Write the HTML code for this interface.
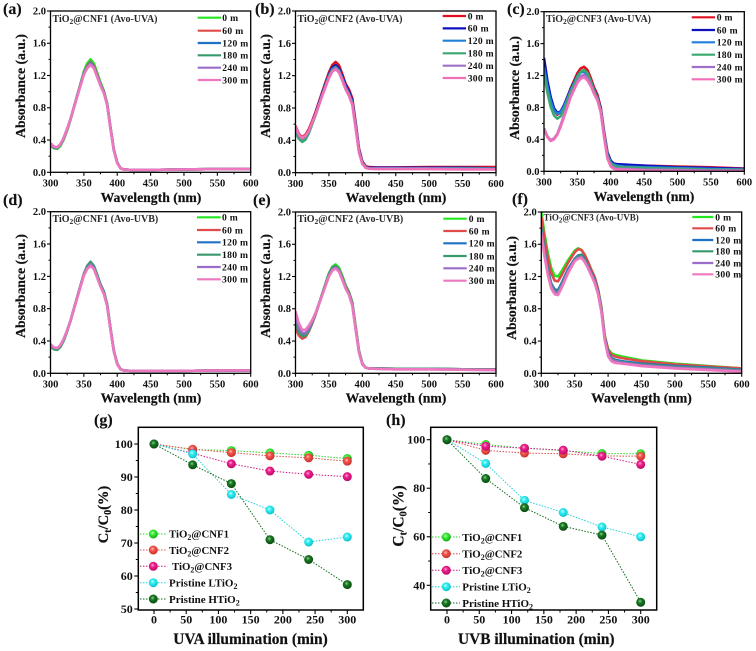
<!DOCTYPE html>
<html lang="en">
<head>
<meta charset="utf-8">
<title>TiO2@CNF absorbance and degradation charts</title>
<style>
html,body{margin:0;padding:0;background:#fff;}
svg{display:block;filter:blur(0.3px);}
text{font-family:"Liberation Serif",serif;font-weight:bold;fill:#111;}
.pl{font-size:16px;stroke:#111;stroke-width:.15px;}
.ti{font-size:10px;fill:#2a2a2a;}
.ax{font-size:13.7px;stroke:#111;stroke-width:.2px;}
.lg{font-size:9.6px;letter-spacing:.3px;}
.ll{stroke-width:2.2;}
.big{font-size:15.4px;stroke:#111;stroke-width:.2px;}
.yb{font-size:14.5px;stroke:#111;stroke-width:.2px;}
.gl{font-size:10.8px;}
.dl{stroke-width:1;stroke-dasharray:1.5 1.5;}
</style>
</head>
<body>
<svg id="fig" xmlns="http://www.w3.org/2000/svg" width="756" height="651" viewBox="0 0 756 651">
<defs>
<radialGradient id="s-green" cx="42%" cy="38%" r="62%"><stop offset="0" stop-color="#b8ffb0"/><stop offset=".35" stop-color="#3cf03c"/><stop offset="1" stop-color="#12a812"/></radialGradient>
<radialGradient id="s-red" cx="42%" cy="38%" r="62%"><stop offset="0" stop-color="#ffc4b8"/><stop offset=".35" stop-color="#f2574c"/><stop offset="1" stop-color="#c8302c"/></radialGradient>
<radialGradient id="s-mag" cx="42%" cy="38%" r="62%"><stop offset="0" stop-color="#ffb0d8"/><stop offset=".35" stop-color="#f0208e"/><stop offset="1" stop-color="#b80c68"/></radialGradient>
<radialGradient id="s-cyan" cx="42%" cy="38%" r="62%"><stop offset="0" stop-color="#d0ffff"/><stop offset=".35" stop-color="#30eef2"/><stop offset="1" stop-color="#12c0cc"/></radialGradient>
<radialGradient id="s-dark" cx="42%" cy="38%" r="62%"><stop offset="0" stop-color="#90d090"/><stop offset=".35" stop-color="#1a7a24"/><stop offset="1" stop-color="#084a10"/></radialGradient>
</defs>

<g id="marks"></g>

<g>
<text class="pl" x="3" y="14">(a)</text>
<text class="ti" x="52.5" y="22">TiO<tspan font-size="7.5" dy="2">2</tspan><tspan dy="-2">@CNF1 (Avo-UVA)</tspan></text>
<text class="ax" x="151" y="202" text-anchor="middle">Wavelength (nm)</text>
<text class="ax" transform="translate(25,86) rotate(-90)" text-anchor="middle">Absorbance (a.u.)</text>
<g>
<line class="ll" x1="197.7" x2="221" y1="17.7" y2="17.7" stroke="#22e822"/><text class="lg" x="222.3" y="21">0 m</text>
<line class="ll" x1="197.7" x2="221" y1="30.7" y2="30.7" stroke="#e04a48"/><text class="lg" x="222.3" y="34">60 m</text>
<line class="ll" x1="197.7" x2="221" y1="43" y2="43" stroke="#2070c4"/><text class="lg" x="222.3" y="46.3">120 m</text>
<line class="ll" x1="197.7" x2="221" y1="55.3" y2="55.3" stroke="#38996c"/><text class="lg" x="222.3" y="58.6">180 m</text>
<line class="ll" x1="197.7" x2="221" y1="67.7" y2="67.7" stroke="#9a6ccc"/><text class="lg" x="222.3" y="71">240 m</text>
<line class="ll" x1="197.7" x2="221" y1="80" y2="80" stroke="#ee78c0"/><text class="lg" x="222.3" y="83.3">300 m</text>
</g>
</g>

<g>
<text class="pl" x="255" y="14">(b)</text>
<text class="ti" x="297.5" y="22">TiO<tspan font-size="7.5" dy="2">2</tspan><tspan dy="-2">@CNF2 (Avo-UVA)</tspan></text>
<text class="ax" x="396" y="202" text-anchor="middle">Wavelength (nm)</text>
<text class="ax" transform="translate(270,86) rotate(-90)" text-anchor="middle">Absorbance (a.u.)</text>
<g>
<line class="ll" x1="442.7" x2="466" y1="16" y2="16" stroke="#e01020"/><text class="lg" x="467.7" y="19.3">0 m</text>
<line class="ll" x1="442.7" x2="466" y1="28.4" y2="28.4" stroke="#1010c0"/><text class="lg" x="467.7" y="31.7">60 m</text>
<line class="ll" x1="442.7" x2="466" y1="40.7" y2="40.7" stroke="#2080d8"/><text class="lg" x="467.7" y="44">120 m</text>
<line class="ll" x1="442.7" x2="466" y1="53.3" y2="53.3" stroke="#3aa870"/><text class="lg" x="467.7" y="56.6">180 m</text>
<line class="ll" x1="442.7" x2="466" y1="65.7" y2="65.7" stroke="#a070c8"/><text class="lg" x="467.7" y="69">240 m</text>
<line class="ll" x1="442.7" x2="466" y1="78" y2="78" stroke="#f070b8"/><text class="lg" x="467.7" y="81.3">300 m</text>
</g>
</g>

<g>
<text class="pl" x="507" y="14">(c)</text>
<text class="ti" x="546" y="22">TiO<tspan font-size="7.5" dy="2">2</tspan><tspan dy="-2">@CNF3 (Avo-UVA)</tspan></text>
<text class="ax" x="644" y="201" text-anchor="middle">Wavelength (nm)</text>
<text class="ax" transform="translate(519,88) rotate(-90)" text-anchor="middle">Absorbance (a.u.)</text>
<g>
<line class="ll" x1="691.7" x2="715" y1="17.3" y2="17.3" stroke="#e01020"/><text class="lg" x="716.7" y="20.6">0 m</text>
<line class="ll" x1="691.7" x2="715" y1="30" y2="30" stroke="#1010c0"/><text class="lg" x="716.7" y="33.3">60 m</text>
<line class="ll" x1="691.7" x2="715" y1="42.3" y2="42.3" stroke="#2080d8"/><text class="lg" x="716.7" y="45.6">120 m</text>
<line class="ll" x1="691.7" x2="715" y1="54.7" y2="54.7" stroke="#3aa870"/><text class="lg" x="716.7" y="58">180 m</text>
<line class="ll" x1="691.7" x2="715" y1="67" y2="67" stroke="#a070c8"/><text class="lg" x="716.7" y="70.3">240 m</text>
<line class="ll" x1="691.7" x2="715" y1="79.3" y2="79.3" stroke="#f070b8"/><text class="lg" x="716.7" y="82.6">300 m</text>
</g>
</g>

<g>
<text class="pl" x="3" y="205">(d)</text>
<text class="ti" x="52.5" y="222">TiO<tspan font-size="7.5" dy="2">2</tspan><tspan dy="-2">@CNF1 (Avo-UVB)</tspan></text>
<text class="ax" x="151" y="402.5" text-anchor="middle">Wavelength (nm)</text>
<text class="ax" transform="translate(25,286) rotate(-90)" text-anchor="middle">Absorbance (a.u.)</text>
<g>
<line class="ll" x1="197" x2="220.7" y1="217.3" y2="217.3" stroke="#22e822"/><text class="lg" x="222" y="220.6">0 m</text>
<line class="ll" x1="197" x2="220.7" y1="230" y2="230" stroke="#e04a48"/><text class="lg" x="222" y="233.3">60 m</text>
<line class="ll" x1="197" x2="220.7" y1="242.3" y2="242.3" stroke="#2070c4"/><text class="lg" x="222" y="245.6">120 m</text>
<line class="ll" x1="197" x2="220.7" y1="254.7" y2="254.7" stroke="#38996c"/><text class="lg" x="222" y="258">180 m</text>
<line class="ll" x1="197" x2="220.7" y1="267" y2="267" stroke="#9a6ccc"/><text class="lg" x="222" y="270.3">240 m</text>
<line class="ll" x1="197" x2="220.7" y1="279.3" y2="279.3" stroke="#ee78c0"/><text class="lg" x="222" y="282.6">300 m</text>
</g>
</g>

<g>
<text class="pl" x="253" y="205">(e)</text>
<text class="ti" x="297.5" y="222">TiO<tspan font-size="7.5" dy="2">2</tspan><tspan dy="-2">@CNF2 (Avo-UVB)</tspan></text>
<text class="ax" x="396" y="402.5" text-anchor="middle">Wavelength (nm)</text>
<text class="ax" transform="translate(270,286) rotate(-90)" text-anchor="middle">Absorbance (a.u.)</text>
<g>
<line class="ll" x1="443.3" x2="466.7" y1="218.7" y2="218.7" stroke="#22e822"/><text class="lg" x="468.7" y="222">0 m</text>
<line class="ll" x1="443.3" x2="466.7" y1="231" y2="231" stroke="#e04a48"/><text class="lg" x="468.7" y="234.3">60 m</text>
<line class="ll" x1="443.3" x2="466.7" y1="243.3" y2="243.3" stroke="#2070c4"/><text class="lg" x="468.7" y="246.6">120 m</text>
<line class="ll" x1="443.3" x2="466.7" y1="256" y2="256" stroke="#38996c"/><text class="lg" x="468.7" y="259.3">180 m</text>
<line class="ll" x1="443.3" x2="466.7" y1="268.3" y2="268.3" stroke="#9a6ccc"/><text class="lg" x="468.7" y="271.6">240 m</text>
<line class="ll" x1="443.3" x2="466.7" y1="280.7" y2="280.7" stroke="#ee78c0"/><text class="lg" x="468.7" y="284">300 m</text>
</g>
</g>

<g>
<text class="pl" x="512" y="204">(f)</text>
<text class="ti" x="543.5" y="220.5" style="font-size:9px">TiO<tspan font-size="7" dy="2">2</tspan><tspan dy="-2">@CNF3 (Avo-UVB)</tspan></text>
<text class="ax" x="641.5" y="402.5" text-anchor="middle">Wavelength (nm)</text>
<text class="ax" transform="translate(516,288) rotate(-90)" text-anchor="middle">Absorbance (a.u.)</text>
<g>
<line class="ll" x1="692.3" x2="713.3" y1="217" y2="217" stroke="#22e822"/><text class="lg" x="715.3" y="220.3">0 m</text>
<line class="ll" x1="692.3" x2="713.3" y1="228.3" y2="228.3" stroke="#e04a48"/><text class="lg" x="715.3" y="231.6">60 m</text>
<line class="ll" x1="692.3" x2="713.3" y1="240" y2="240" stroke="#2070c4"/><text class="lg" x="715.3" y="243.3">120 m</text>
<line class="ll" x1="692.3" x2="713.3" y1="251.3" y2="251.3" stroke="#38996c"/><text class="lg" x="715.3" y="254.6">180 m</text>
<line class="ll" x1="692.3" x2="713.3" y1="263" y2="263" stroke="#9a6ccc"/><text class="lg" x="715.3" y="266.3">240 m</text>
<line class="ll" x1="692.3" x2="713.3" y1="274.3" y2="274.3" stroke="#ee78c0"/><text class="lg" x="715.3" y="277.6">300 m</text>
</g>
</g>

<g>
<text class="pl" x="94" y="425">(g)</text>
<text class="big" x="250.5" y="644" text-anchor="middle">UVA illumination (min)</text>
<text class="yb" transform="translate(108,514.5) rotate(-90)" text-anchor="middle">C<tspan font-size="10" dy="3">t</tspan><tspan dy="-3">/C</tspan><tspan font-size="10" dy="3">0</tspan><tspan dy="-3">(%)</tspan></text>
<g>
<line class="dl" x1="140" x2="167" y1="534" y2="534" stroke="#22dd22"/><circle cx="153.3" cy="534" r="4.5" fill="url(#s-green)"/><text class="gl" x="169" y="537.5">TiO<tspan font-size="8" dy="2.5">2</tspan><tspan dy="-2.5">@CNF1</tspan></text>
<line class="dl" x1="140" x2="167" y1="550" y2="550" stroke="#e04a48"/><circle cx="153.3" cy="550" r="4.5" fill="url(#s-red)"/><text class="gl" x="169" y="553.8">TiO<tspan font-size="8" dy="2.5">2</tspan><tspan dy="-2.5">@CNF2</tspan></text>
<line class="dl" x1="140" x2="167" y1="566.3" y2="566.3" stroke="#d01a88"/><circle cx="153.3" cy="566.3" r="4.5" fill="url(#s-mag)"/><text class="gl" x="172" y="570.1">TiO<tspan font-size="8" dy="2.5">2</tspan><tspan dy="-2.5">@CNF3</tspan></text>
<line class="dl" x1="140" x2="167" y1="582.7" y2="582.7" stroke="#22d0d8"/><circle cx="153.3" cy="582.7" r="4.5" fill="url(#s-cyan)"/><text class="gl" x="169" y="586.5" style="font-size:11px">Pristine LTiO<tspan font-size="8" dy="2.5">2</tspan></text>
<line class="dl" x1="140" x2="167" y1="599" y2="599" stroke="#106a1a"/><circle cx="153.3" cy="599" r="4.5" fill="url(#s-dark)"/><text class="gl" x="169" y="603" style="font-size:11px">Pristine HTiO<tspan font-size="8" dy="2.5">2</tspan></text>
</g>
</g>

<g>
<text class="pl" x="386" y="425">(h)</text>
<text class="big" x="536.3" y="644" text-anchor="middle">UVB illumination (min)</text>
<text class="yb" style="font-size:15.5px" transform="translate(403.5,516) rotate(-90)" text-anchor="middle">C<tspan font-size="10.5" dy="3">t</tspan><tspan dy="-3">/C</tspan><tspan font-size="10.5" dy="3">0</tspan><tspan dy="-3">(%)</tspan></text>
<g>
<line class="dl" x1="432" x2="460" y1="537" y2="537" stroke="#22dd22"/><circle cx="446.3" cy="537" r="4.5" fill="url(#s-green)"/><text class="gl" x="462.3" y="540.8">TiO<tspan font-size="8" dy="2.5">2</tspan><tspan dy="-2.5">@CNF1</tspan></text>
<line class="dl" x1="432" x2="460" y1="553.7" y2="553.7" stroke="#e04a48"/><circle cx="446.3" cy="553.7" r="4.5" fill="url(#s-red)"/><text class="gl" x="462.3" y="557.5">TiO<tspan font-size="8" dy="2.5">2</tspan><tspan dy="-2.5">@CNF2</tspan></text>
<line class="dl" x1="432" x2="460" y1="570.3" y2="570.3" stroke="#d01a88"/><circle cx="446.3" cy="570.3" r="4.5" fill="url(#s-mag)"/><text class="gl" x="462.3" y="574.1">TiO<tspan font-size="8" dy="2.5">2</tspan><tspan dy="-2.5">@CNF3</tspan></text>
<line class="dl" x1="432" x2="460" y1="586.7" y2="586.7" stroke="#22d0d8"/><circle cx="446.3" cy="586.7" r="4.5" fill="url(#s-cyan)"/><text class="gl" x="462.3" y="590.5" style="font-size:11px">Pristine LTiO<tspan font-size="8" dy="2.5">2</tspan></text>
<line class="dl" x1="432" x2="460" y1="603" y2="603" stroke="#106a1a"/><circle cx="446.3" cy="603" r="4.5" fill="url(#s-dark)"/><text class="gl" x="462.3" y="606.8" style="font-size:11px">Pristine HTiO<tspan font-size="8" dy="2.5">2</tspan></text>
</g>
</g>
</svg>

<script>
/* shared categories and ticks */
const wavelengths = [300,305,310,315,320,325,330,340,350,355,360,365,370,375,380,385,390,395,400,405,410,420,450,500,550,600];
const absTicks = [0,0.4,0.8,1.2,1.6,2.0];
const absMinor = [0.2,0.6,1.0,1.4,1.8];
const wlTicks = [300,350,400,450,500,550,600];
const wlMinor = [325,375,425,475,525,575];
const timePoints = [0,60,120,180,240,300];
const timeTicks = [0,50,100,150,200,250,300];
const timeMinor = [25,75,125,175,225,275];
const gTicks = [50,60,70,80,90,100];
const gMinor = [55,65,75,85,95];
const hTicks = [40,60,80,100];
const hMinor = [50,70,90];

/* panel a */
const a0 = [.35,.30,.29,.33,.41,.52,.65,.95,1.25,1.35,1.40,1.35,1.23,1.11,1.01,.85,.55,.28,.12,.05,.035,.03,.03,.035,.04,.04];
const a60 = [.35,.31,.30,.34,.42,.53,.66,.95,1.23,1.32,1.37,1.32,1.21,1.09,1.00,.84,.55,.28,.12,.05,.035,.03,.03,.035,.04,.04];
const a120 = [.35,.31,.31,.35,.43,.54,.66,.95,1.23,1.31,1.36,1.31,1.20,1.08,.99,.84,.54,.27,.12,.05,.035,.03,.03,.035,.04,.04];
const a180 = [.34,.30,.30,.34,.42,.53,.66,.95,1.23,1.31,1.36,1.31,1.20,1.09,1.00,.84,.54,.27,.12,.05,.035,.03,.03,.035,.04,.04];
const a240 = [.35,.31,.31,.35,.43,.54,.66,.94,1.22,1.30,1.35,1.30,1.19,1.08,.99,.83,.54,.27,.12,.05,.035,.03,.03,.035,.04,.04];
const a300 = [.36,.32,.31,.35,.43,.54,.66,.94,1.21,1.29,1.33,1.29,1.18,1.07,.98,.83,.53,.27,.11,.05,.035,.03,.03,.035,.04,.04];

/* panel b */
const b0 = [.58,.48,.44,.47,.54,.64,.75,1.00,1.24,1.33,1.37,1.33,1.22,1.10,1.03,.92,.62,.30,.14,.08,.07,.065,.065,.07,.07,.07];
const b60 = [.56,.46,.42,.45,.52,.62,.73,.98,1.21,1.30,1.33,1.29,1.19,1.08,1.00,.89,.60,.28,.13,.07,.06,.06,.06,.06,.06,.055];
const b120 = [.54,.45,.41,.44,.51,.61,.72,.97,1.20,1.28,1.31,1.27,1.17,1.06,.98,.87,.58,.27,.12,.07,.055,.055,.055,.055,.055,.05];
const b180 = [.50,.42,.38,.41,.49,.60,.71,.96,1.19,1.27,1.30,1.26,1.16,1.05,.97,.86,.57,.26,.12,.065,.05,.05,.05,.05,.05,.05];
const b240 = [.55,.46,.42,.45,.52,.62,.72,.96,1.18,1.26,1.29,1.25,1.15,1.04,.96,.85,.56,.26,.11,.06,.05,.05,.05,.05,.045,.045];
const b300 = [.57,.47,.43,.46,.52,.62,.72,.95,1.17,1.25,1.28,1.24,1.14,1.03,.95,.84,.55,.25,.11,.06,.05,.045,.045,.045,.04,.04];

/* panel c */
const c0 = [1.30,1.06,.88,.76,.71,.74,.82,1.04,1.23,1.29,1.31,1.27,1.17,1.05,.96,.80,.50,.24,.13,.09,.08,.075,.07,.06,.05,.035];
const c60 = [1.42,1.14,.93,.79,.73,.75,.83,1.03,1.20,1.25,1.26,1.22,1.13,1.02,.93,.78,.48,.23,.13,.095,.09,.085,.07,.05,.04,.03];
const c120 = [1.30,1.06,.88,.76,.72,.74,.81,1.01,1.19,1.24,1.25,1.21,1.12,1.01,.92,.77,.47,.21,.11,.08,.07,.06,.05,.04,.03,.02];
const c180 = [1.22,.99,.81,.70,.66,.69,.78,1.00,1.19,1.25,1.27,1.23,1.13,1.01,.92,.76,.46,.20,.10,.07,.055,.05,.04,.03,.02,.02];
const c240 = [.54,.44,.39,.41,.47,.58,.70,.95,1.13,1.19,1.21,1.17,1.09,.98,.90,.75,.44,.17,.07,.04,.03,.03,.02,.015,.01,.01];
const c300 = [.53,.43,.38,.40,.46,.56,.68,.93,1.11,1.16,1.18,1.14,1.07,.97,.89,.74,.43,.16,.06,.03,.02,.02,.01,.005,0,0];

/* panel d */
const d0 = [.33,.30,.29,.33,.41,.52,.65,.94,1.23,1.32,1.37,1.32,1.21,1.10,1.01,.85,.55,.28,.12,.05,.035,.03,.03,.03,.035,.035];
const d60 = [.34,.31,.30,.34,.42,.53,.65,.94,1.23,1.32,1.36,1.32,1.21,1.09,1.00,.84,.55,.28,.12,.05,.035,.03,.03,.03,.035,.035];
const d120 = [.34,.31,.30,.34,.42,.53,.65,.94,1.22,1.31,1.36,1.31,1.20,1.09,1.00,.84,.54,.27,.12,.05,.035,.03,.03,.03,.035,.035];
const d180 = [.33,.30,.29,.33,.41,.52,.65,.94,1.23,1.33,1.38,1.33,1.22,1.10,1.01,.85,.54,.27,.12,.05,.035,.03,.03,.03,.035,.035];
const d240 = [.35,.32,.31,.35,.43,.53,.65,.94,1.22,1.30,1.35,1.30,1.19,1.08,.99,.83,.54,.27,.11,.05,.035,.03,.03,.03,.035,.035];
const d300 = [.36,.32,.31,.35,.43,.53,.65,.93,1.21,1.29,1.33,1.29,1.18,1.07,.98,.83,.53,.27,.11,.05,.035,.03,.03,.03,.035,.035];

/* panel e */
const e0 = [.60,.50,.46,.47,.53,.62,.73,.99,1.24,1.32,1.35,1.31,1.21,1.09,1.01,.88,.58,.28,.12,.07,.06,.06,.055,.055,.05,.05];
const e60 = [.56,.47,.43,.45,.52,.62,.73,.98,1.22,1.30,1.33,1.29,1.19,1.08,1.00,.87,.57,.27,.12,.07,.06,.06,.055,.055,.05,.05];
const e120 = [.66,.53,.47,.48,.54,.63,.74,.98,1.22,1.30,1.32,1.28,1.18,1.07,.99,.86,.56,.27,.12,.07,.06,.06,.055,.055,.05,.045];
const e180 = [.62,.51,.46,.47,.53,.63,.74,.98,1.23,1.31,1.33,1.29,1.19,1.07,.99,.86,.56,.27,.12,.07,.06,.06,.055,.055,.05,.045];
const e240 = [.70,.57,.50,.50,.56,.64,.74,.97,1.21,1.29,1.31,1.27,1.17,1.06,.98,.85,.55,.26,.11,.07,.06,.055,.05,.05,.045,.04];
const e300 = [.77,.62,.54,.54,.59,.66,.75,.97,1.20,1.27,1.30,1.26,1.16,1.05,.97,.84,.54,.26,.11,.07,.06,.055,.05,.05,.045,.04];

/* panel f */
const f0 = [2.00,1.72,1.48,1.30,1.21,1.20,1.26,1.40,1.52,1.55,1.53,1.47,1.38,1.28,1.19,1.04,.82,.47,.30,.25,.23,.21,.16,.12,.09,.06];
const f60 = [1.94,1.66,1.42,1.24,1.15,1.14,1.21,1.37,1.50,1.54,1.53,1.47,1.38,1.28,1.19,1.04,.81,.46,.29,.23,.21,.19,.15,.11,.085,.06];
const f120 = [1.80,1.52,1.28,1.11,1.04,1.03,1.11,1.29,1.42,1.46,1.47,1.42,1.33,1.24,1.15,1.01,.79,.44,.25,.19,.17,.15,.12,.09,.07,.045];
const f180 = [1.78,1.50,1.26,1.09,1.02,1.01,1.09,1.27,1.41,1.45,1.46,1.41,1.32,1.23,1.14,1.00,.78,.43,.24,.18,.16,.14,.11,.08,.06,.04];
const f240 = [1.75,1.47,1.23,1.07,1.00,.99,1.07,1.26,1.40,1.43,1.44,1.39,1.31,1.22,1.13,.99,.77,.42,.23,.17,.15,.13,.10,.07,.05,.03];
const f300 = [1.72,1.44,1.21,1.05,.98,.97,1.05,1.24,1.39,1.42,1.43,1.38,1.30,1.21,1.12,.98,.76,.41,.21,.15,.13,.12,.09,.06,.04,.02];

/* panel g */
const gCnf1 = [100,98.3,98,97.3,96.6,95.6];
const gCnf2 = [100,98.4,97.4,96.4,95.8,94.8];
const gCnf3 = [100,97.2,94,91.8,90.8,90.1];
const gLtio = [100,97,84.7,80,70.3,71.8];
const gHtio = [100,93.7,88,71,65,57.4];

/* panel h */
const hCnf1 = [100,98,96.5,95.5,94.3,94.2];
const hCnf2 = [100,95.6,94.5,94.2,93.3,93.2];
const hCnf3 = [100,97.3,96.5,95.7,93.2,89.8];
const hLtio = [100,90.2,75,70,64,60];
const hHtio = [100,84,72,64.3,60.7,33];

const palette1 = ['#22e822','#e04a48','#2070c4','#38996c','#9a6ccc','#ee78c0'];
const palette2 = ['#e01020','#1010c0','#2080d8','#3aa870','#a070c8','#f070b8'];
const NS = 'http://www.w3.org/2000/svg';
const root = document.getElementById('marks');

function make(tag, attrs, parent) {
  const node = document.createElementNS(NS, tag);
  for (const k in attrs) node.setAttribute(k, attrs[k]);
  parent.appendChild(node);
  return node;
}
function linear(v0, v1, p0, p1) {
  return function (v) { return p0 + (v - v0) * (p1 - p0) / (v1 - v0); };
}
function drawAxes(g, box, x, y, o) {
  const frame = make('rect', {x: box.l, y: box.t, width: box.r - box.l, height: box.b - box.t, fill: 'none', stroke: '#000', 'stroke-width': o.frameW}, g);
  
  
  o.xMajor.forEach(function (v) {
    make('line', {x1: x(v), x2: x(v), y1: box.b, y2: box.b + o.majorLen, stroke: '#000', 'stroke-width': 1.1}, g);
    const t = make('text', {x: x(v), y: box.b + o.xLabelDy, 'text-anchor': 'middle', 'font-size': o.fontSize}, g);
    t.textContent = String(v);
    
    
  });
  o.xMinor.forEach(function (v) {
    make('line', {x1: x(v), x2: x(v), y1: box.b, y2: box.b + o.minorLen, stroke: '#000', 'stroke-width': 1}, g);
  });
  o.yMajor.forEach(function (v) {
    make('line', {x1: box.l, x2: box.l - o.majorLen, y1: y(v), y2: y(v), stroke: '#000', 'stroke-width': 1.1}, g);
    const t = make('text', {x: box.l - o.yLabelDx, y: y(v) + o.fontSize * 0.33, 'text-anchor': 'end', 'font-size': o.fontSize}, g);
    t.textContent = o.yFmt(v);
    
    
  });
  o.yMinor.forEach(function (v) {
    make('line', {x1: box.l, x2: box.l - o.minorLen, y1: y(v), y2: y(v), stroke: '#000', 'stroke-width': 1}, g);
  });
}
function spectrumPanel(id, box, seriesList, colors) {
  const g = make('g', {}, root);
  
  
  const x = linear(300, 600, box.l, box.r);
  const y = linear(0, 2, box.b, box.t);
  const clip = make('clipPath', {id: 'clip-' + id}, g);
  make('rect', {x: box.l, y: box.t, width: box.r - box.l, height: box.b - box.t}, clip);
  seriesList.forEach(function (vals, i) {
    const pts = vals.map(function (v, j) { return x(wavelengths[j]).toFixed(2) + ',' + y(v).toFixed(2); }).join(' ');
    const line = make('polyline', {points: pts, fill: 'none', stroke: colors[i], 'stroke-width': 2.6, 'stroke-linejoin': 'round', 'clip-path': 'url(#clip-' + id + ')'}, g);
    
    
  });
  drawAxes(g, box, x, y, {frameW: 1.3, majorLen: 3.5, minorLen: 2, xLabelDy: 14.2, yLabelDx: 4.5, fontSize: 10.5,
    xMajor: wlTicks, xMinor: wlMinor, yMajor: absTicks, yMinor: absMinor,
    yFmt: function (v) { return v.toFixed(1); }});
}
function kineticsPanel(id, box, x, y, seriesList, yMajor, yMinor) {
  const g = make('g', {}, root);
  
  
  seriesList.forEach(function (s) {
    const pts = s.vals.map(function (v, j) { return x(timePoints[j]).toFixed(2) + ',' + y(v).toFixed(2); }).join(' ');
    const line = make('polyline', {points: pts, fill: 'none', stroke: s.color, 'stroke-width': 1, 'stroke-dasharray': '1.5 1.5'}, g);
    
    
  });
  seriesList.forEach(function (s) {
    s.vals.forEach(function (v, j) {
      const dot = make('circle', {cx: x(timePoints[j]), cy: y(v), r: 4.5, fill: 'url(#' + s.grad + ')'}, g);
      
      
    });
  });
  drawAxes(g, box, x, y, {frameW: 1.5, majorLen: 4, minorLen: 2.5, xLabelDy: 13.5, yLabelDx: 5.5, fontSize: 12,
    xMajor: timeTicks, xMinor: timeMinor, yMajor: yMajor, yMinor: yMinor,
    yFmt: function (v) { return String(v); }});
}

spectrumPanel('a', {l: 50.5, r: 250.7, t: 11, b: 172.3}, [a0, a60, a120, a180, a240, a300], palette1);
spectrumPanel('b', {l: 295.5, r: 496, t: 11, b: 172.7}, [b0, b60, b120, b180, b240, b300], palette2);
spectrumPanel('c', {l: 544, r: 744.3, t: 11.7, b: 171.3}, [c0, c60, c120, c180, c240, c300], palette2);
spectrumPanel('d', {l: 50.5, r: 250.7, t: 211.7, b: 373.3}, [d0, d60, d120, d180, d240, d300], palette1);
spectrumPanel('e', {l: 295.5, r: 496, t: 212, b: 373.3}, [e0, e60, e120, e180, e240, e300], palette1);
spectrumPanel('f', {l: 541.3, r: 741.7, t: 212, b: 373.3}, [f0, f60, f120, f180, f240, f300], palette1);

kineticsPanel('g', {l: 138.3, r: 363.3, t: 427.3, b: 610},
  linear(0, 300, 154, 347.3), linear(50, 100, 609, 444),
  [{vals: gCnf1, color: '#22dd22', grad: 's-green'},
   {vals: gCnf2, color: '#e04a48', grad: 's-red'},
   {vals: gCnf3, color: '#d01a88', grad: 's-mag'},
   {vals: gLtio, color: '#22d0d8', grad: 's-cyan'},
   {vals: gHtio, color: '#106a1a', grad: 's-dark'}], gTicks, gMinor);

kineticsPanel('h', {l: 430.7, r: 656.7, t: 427.3, b: 610},
  linear(0, 300, 447, 640.7), linear(40, 100, 585.3, 439.7),
  [{vals: hCnf1, color: '#22dd22', grad: 's-green'},
   {vals: hCnf2, color: '#e04a48', grad: 's-red'},
   {vals: hCnf3, color: '#d01a88', grad: 's-mag'},
   {vals: hLtio, color: '#22d0d8', grad: 's-cyan'},
   {vals: hHtio, color: '#106a1a', grad: 's-dark'}], hTicks, hMinor);
</script>
</body>
</html>
